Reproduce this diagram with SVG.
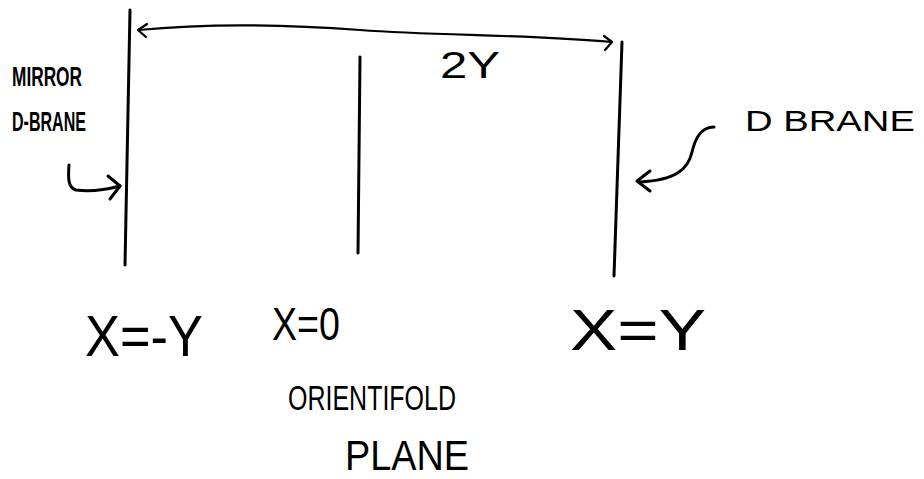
<svg xmlns="http://www.w3.org/2000/svg" width="924" height="479" viewBox="0 0 924 479">
<style>
.ln{fill:none;stroke:#000;stroke-width:3;stroke-linecap:round;stroke-linejoin:round}
.thin{fill:none;stroke:#000;stroke-width:2.2;stroke-linecap:round;stroke-linejoin:round}
.t{font-family:"Liberation Sans",Arial,sans-serif;fill:#000}
</style>
<rect width="924" height="479" fill="#fff"/>
<g id="mirror-brane">
<path class="ln" d="M130 10 L125 265"/>
<text class="t" x="12" y="86" font-size="27" font-weight="bold" textLength="70" lengthAdjust="spacingAndGlyphs">MIRROR</text>
<text class="t" x="12" y="131" font-size="28" font-weight="bold" textLength="74" lengthAdjust="spacingAndGlyphs">D-BRANE</text>
<text class="t" x="85" y="356" font-size="58" textLength="118" lengthAdjust="spacingAndGlyphs">X=-Y</text>
</g>
<g id="orientifold-plane">
<path class="ln" d="M360 57 L358 253"/>
<text class="t" x="272" y="340" font-size="46" textLength="68" lengthAdjust="spacingAndGlyphs">X=0</text>
<text class="t" x="288" y="410" font-size="35" textLength="168" lengthAdjust="spacingAndGlyphs">ORIENTIFOLD</text>
<text class="t" x="345" y="470" font-size="42" textLength="124" lengthAdjust="spacingAndGlyphs">PLANE</text>
</g>
<g id="d-brane">
<path class="ln" d="M622 42 L614 276"/>
<text class="t" x="745" y="131" font-size="29" textLength="170" lengthAdjust="spacingAndGlyphs">D BRANE</text>
<text class="t" x="570" y="350" font-size="58" textLength="136" lengthAdjust="spacingAndGlyphs">X=Y</text>
</g>
<g id="connectors">
<path class="thin" d="M138 30 C200 24 280 24 360 30 C440 36 520 34 612 42"/>
<path class="thin" d="M147 24 L138 30 L146 37"/>
<path class="thin" d="M604 36 L612 42 L605 50"/>
<text class="t" x="440" y="78" font-size="36" textLength="60" lengthAdjust="spacingAndGlyphs">2Y</text>
<path class="ln" d="M69 165 C68 178 68 188 76 190 C90 192 105 190 120 186"/>
<path class="ln" d="M108 176 L120 186 L110 199"/>
<path class="ln" d="M714 127 C700 127 695 140 692 152 C688 170 675 180 640 182"/>
<path class="ln" d="M650 171 L637 181 L650 191"/>
</g>
</svg>
